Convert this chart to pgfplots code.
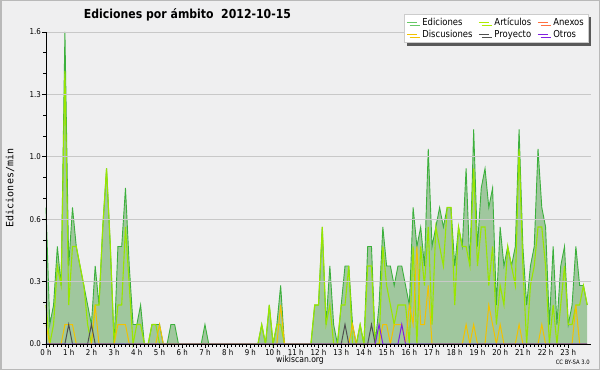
\documentclass[border=0pt]{standalone}
\usepackage{fontspec}
\setmainfont{DejaVu Sans}[FakeStretch=0.88]
\newfontfamily\monofont{DejaVu Sans Mono}
\usepackage{pgfplots}
\usepackage{pgfplotstable}
\pgfplotsset{compat=1.18}
\usetikzlibrary{shadows}
\definecolor{bgcol}{HTML}{EFEFF0}
\definecolor{gridcol}{HTML}{C8C8C8}
\definecolor{edline}{HTML}{3CB03C}
\definecolor{edfill}{HTML}{52A04E}
\definecolor{artcol}{HTML}{99E600}
\definecolor{disccol}{HTML}{F2C200}
\definecolor{proycol}{HTML}{505050}
\definecolor{otroscol}{HTML}{8020E0}
\definecolor{anexcol}{HTML}{FF7040}
\definecolor{edleg}{HTML}{66C866}

\pgfplotstableread{
x ed art disc proy otros
0 0.7 0.2 0.1 0 0
1 0.1 0 0 0 0
2 0.2 0.1 0 0 0
3 0.5 0.4 0 0 0
4 0.3 0.3 0 0 0
5 1.6 1.4 0.1 0 0
6 0.4 0.2 0.1 0.1 0
7 0.7 0.5 0.1 0 0
8 0.5 0.5 0 0 0
9 0.4 0.4 0 0 0
10 0.3 0.3 0 0 0
11 0.2 0.1 0 0 0
12 0.1 0 0 0.1 0
13 0.4 0.2 0.2 0 0
14 0.2 0.2 0 0 0
15 0.6 0.6 0 0 0
16 0.9 0.9 0 0 0
17 0.5 0.5 0 0 0
18 0 0 0 0 0
19 0.5 0.2 0.1 0 0
20 0.5 0.2 0.1 0 0
21 0.8 0.6 0.1 0 0
22 0.4 0.3 0 0 0
23 0.1 0 0 0 0
24 0.1 0.1 0 0 0
25 0.2 0.1 0 0 0
26 0 0 0 0 0
27 0 0 0 0 0
28 0.1 0.1 0 0 0
29 0.1 0.1 0 0 0
30 0.1 0 0.1 0 0
31 0 0 0 0 0
32 0 0 0 0 0
33 0.1 0 0 0 0
34 0.1 0 0 0 0
35 0 0 0 0 0
36 0 0 0 0 0
37 0 0 0 0 0
38 0 0 0 0 0
39 0 0 0 0 0
40 0 0 0 0 0
41 0 0 0 0 0
42 0.1 0 0 0 0
43 0 0 0 0 0
44 0 0 0 0 0
45 0 0 0 0 0
46 0 0 0 0 0
47 0 0 0 0 0
48 0 0 0 0 0
49 0 0 0 0 0
50 0 0 0 0 0
51 0 0 0 0 0
52 0 0 0 0 0
53 0 0 0 0 0
54 0 0 0 0 0
55 0 0 0 0 0
56 0 0 0 0 0
57 0.1 0.1 0 0 0
58 0 0 0 0 0
59 0.2 0.2 0 0 0
60 0 0 0 0 0
61 0.1 0.1 0 0 0
62 0.3 0.1 0.2 0 0
63 0 0 0 0 0
64 0 0 0 0 0
65 0 0 0 0 0
66 0 0 0 0 0
67 0 0 0 0 0
68 0 0 0 0 0
69 0 0 0 0 0
70 0 0 0 0 0
71 0.2 0.2 0 0 0
72 0.2 0.2 0 0 0
73 0.6 0.6 0 0 0
74 0.1 0.1 0 0 0
75 0.4 0.2 0 0 0
76 0.1 0 0 0 0
77 0 0 0 0 0
78 0.2 0.2 0 0 0
79 0.4 0.2 0 0.1 0
80 0.4 0.4 0 0 0
81 0.1 0 0.1 0 0
82 0 0 0 0 0
83 0.1 0.1 0 0 0
84 0 0 0 0 0
85 0.5 0.4 0 0 0
86 0.5 0.4 0 0.1 0
87 0 0 0 0 0
88 0.2 0 0 0 0.1
89 0.6 0.5 0.1 0 0
90 0.4 0.3 0.1 0 0
91 0.4 0.2 0 0 0
92 0.3 0.1 0.1 0 0
93 0.4 0.2 0.1 0 0
94 0.4 0.2 0.1 0 0.1
95 0.3 0.2 0 0 0
96 0.2 0 0.2 0 0
97 0.7 0.5 0.1 0 0
98 0.5 0 0.5 0 0
99 0.6 0.5 0.1 0 0
100 0.4 0.3 0.1 0 0
101 1.0 0.6 0.3 0 0
102 0.5 0.1 0 0 0
103 0.6 0.6 0 0 0
104 0.7 0.5 0 0 0
105 0.6 0.4 0 0 0
106 0.7 0.7 0 0 0
107 0.7 0.7 0 0 0
108 0.4 0.2 0 0 0
109 0.6 0.6 0 0 0
110 0.5 0.5 0 0 0
111 0.9 0.5 0.1 0 0
112 0.4 0.4 0 0 0
113 1.1 0.9 0.1 0 0
114 0.5 0.4 0 0 0
115 0.8 0.6 0 0 0
116 0.9 0.6 0 0 0
117 0.7 0.3 0.2 0 0
118 0.8 0.5 0.1 0 0
119 0.2 0.1 0 0 0
120 0.6 0.3 0.1 0 0
121 0.4 0.2 0 0 0
122 0.5 0.5 0 0 0
123 0.4 0.4 0 0 0
124 0.5 0.3 0 0 0
125 1.1 1.0 0.1 0 0
126 0.5 0.4 0 0 0
127 0.2 0 0 0 0
128 0.4 0.3 0 0 0
129 0.5 0.4 0 0 0
130 1.0 0.6 0 0 0
131 0.7 0.6 0.1 0 0
132 0.6 0.4 0 0 0
133 0.1 0 0 0 0
134 0.5 0.2 0 0 0
135 0.1 0 0 0 0
136 0.4 0.2 0 0 0
137 0.5 0.4 0 0 0
138 0.1 0.1 0 0 0
139 0.2 0.1 0 0 0
140 0.5 0.2 0.2 0 0
141 0.3 0.2 0 0 0
142 0.3 0.3 0 0 0
143 0.2 0.2 0 0 0
}\datatable

\begin{document}
\begin{tikzpicture}
\useasboundingbox (0,0) rectangle (600pt,370pt);
\fill[bgcol] (0,0) rectangle (600pt,370pt);
\begin{axis}[
  at={(46pt,26pt)}, anchor=south west,
  scale only axis, width=545pt, height=312pt,
  xmin=0, xmax=144, ymin=0, ymax=1.6,
  clip=false,
  axis x line*=bottom, axis y line*=left,
  axis line style={black, line width=0.9pt, -},
  xtick={0,6,...,138},
  xticklabels={0 h,1 h,2 h,3 h,4 h,5 h,6 h,7 h,8 h,9 h,10 h,11 h,12 h,13 h,14 h,15 h,16 h,17 h,18 h,19 h,20 h,21 h,22 h,23 h},
  minor x tick num=5,
  ytick={0,0.32,0.64,0.96,1.28,1.6},
  yticklabels={0.0,0.3,0.6,1.0,1.3,1.6},
  minor y tick num=2,
  tick align=outside,
  major tick length=4pt, minor tick length=2.5pt,
  tick style={black, line width=0.7pt},
  ymajorgrids, major grid style={gridcol, line width=0.8pt},
  axis on top,
  xticklabel style={font=\fontsize{8}{9}\selectfont, inner sep=1pt},
  yticklabel style={font=\fontsize{8}{9}\selectfont, inner sep=1pt},
  legend columns=3,
  legend cell align=left,
  legend image code/.code={\draw[#1] (0pt,0pt) -- (10pt,0pt);},
  legend style={at={(rel axis cs:0.9945,1.0577)}, anchor=north east,
    fill=white, draw=gray!40, line width=0.4pt,
    font=\fontsize{9.6}{11}\selectfont,
    inner sep=2pt, row sep=-1.5pt,
    /tikz/every odd column/.append style={column sep=3pt},
    /tikz/every even column/.append style={column sep=4pt},
    drop shadow={shadow xshift=3pt, shadow yshift=-3pt, fill=gray!70!black, opacity=1}},
]
\addplot[draw=none, fill=edfill, fill opacity=0.5, forget plot] table[x=x, y=ed] {\datatable} \closedcycle;
\addplot[edline, line width=0.9pt, forget plot] table[x=x, y=ed] {\datatable};
\addplot[artcol, line width=1.1pt, forget plot] table[x=x, y=art] {\datatable};
\addplot[disccol, line width=1pt, forget plot] table[x=x, y=disc] {\datatable};
\addplot[proycol, line width=1pt, forget plot] table[x=x, y=proy] {\datatable};
\addplot[otroscol, line width=1pt, forget plot] table[x=x, y=otros] {\datatable};
\addlegendimage{edleg, line width=1pt}
\addlegendentry{Ediciones}
\addlegendimage{artcol!80!yellow, line width=1pt}
\addlegendentry{Artículos}
\addlegendimage{anexcol, line width=1pt}
\addlegendentry{Anexos}
\addlegendimage{disccol, line width=1pt}
\addlegendentry{Discusiones}
\addlegendimage{proycol, line width=1pt}
\addlegendentry{Proyecto}
\addlegendimage{otroscol, line width=1pt}
\addlegendentry{Otros}
\end{axis}
\node[anchor=base, font=\bfseries\fontsize{12.4}{14}\selectfont] at (187.5pt,351.5pt) {Ediciones por ámbito\ \ 2012-10-15};
\node[rotate=90, font=\monofont\fontsize{10}{12}\selectfont] at (10pt,182pt) {Ediciones/min};
\node[font=\fontsize{8.7}{10}\selectfont] at (300pt,10pt) {wikiscan.org};
\node[anchor=east, font=\fontsize{6}{7}\selectfont, inner sep=0pt] at (590pt,8pt) {CC BY-SA 3.0};
\draw[gray!55, line width=1.5pt] (0.75pt,0.75pt) rectangle (599.25pt,369.25pt);
\end{tikzpicture}
\end{document}
